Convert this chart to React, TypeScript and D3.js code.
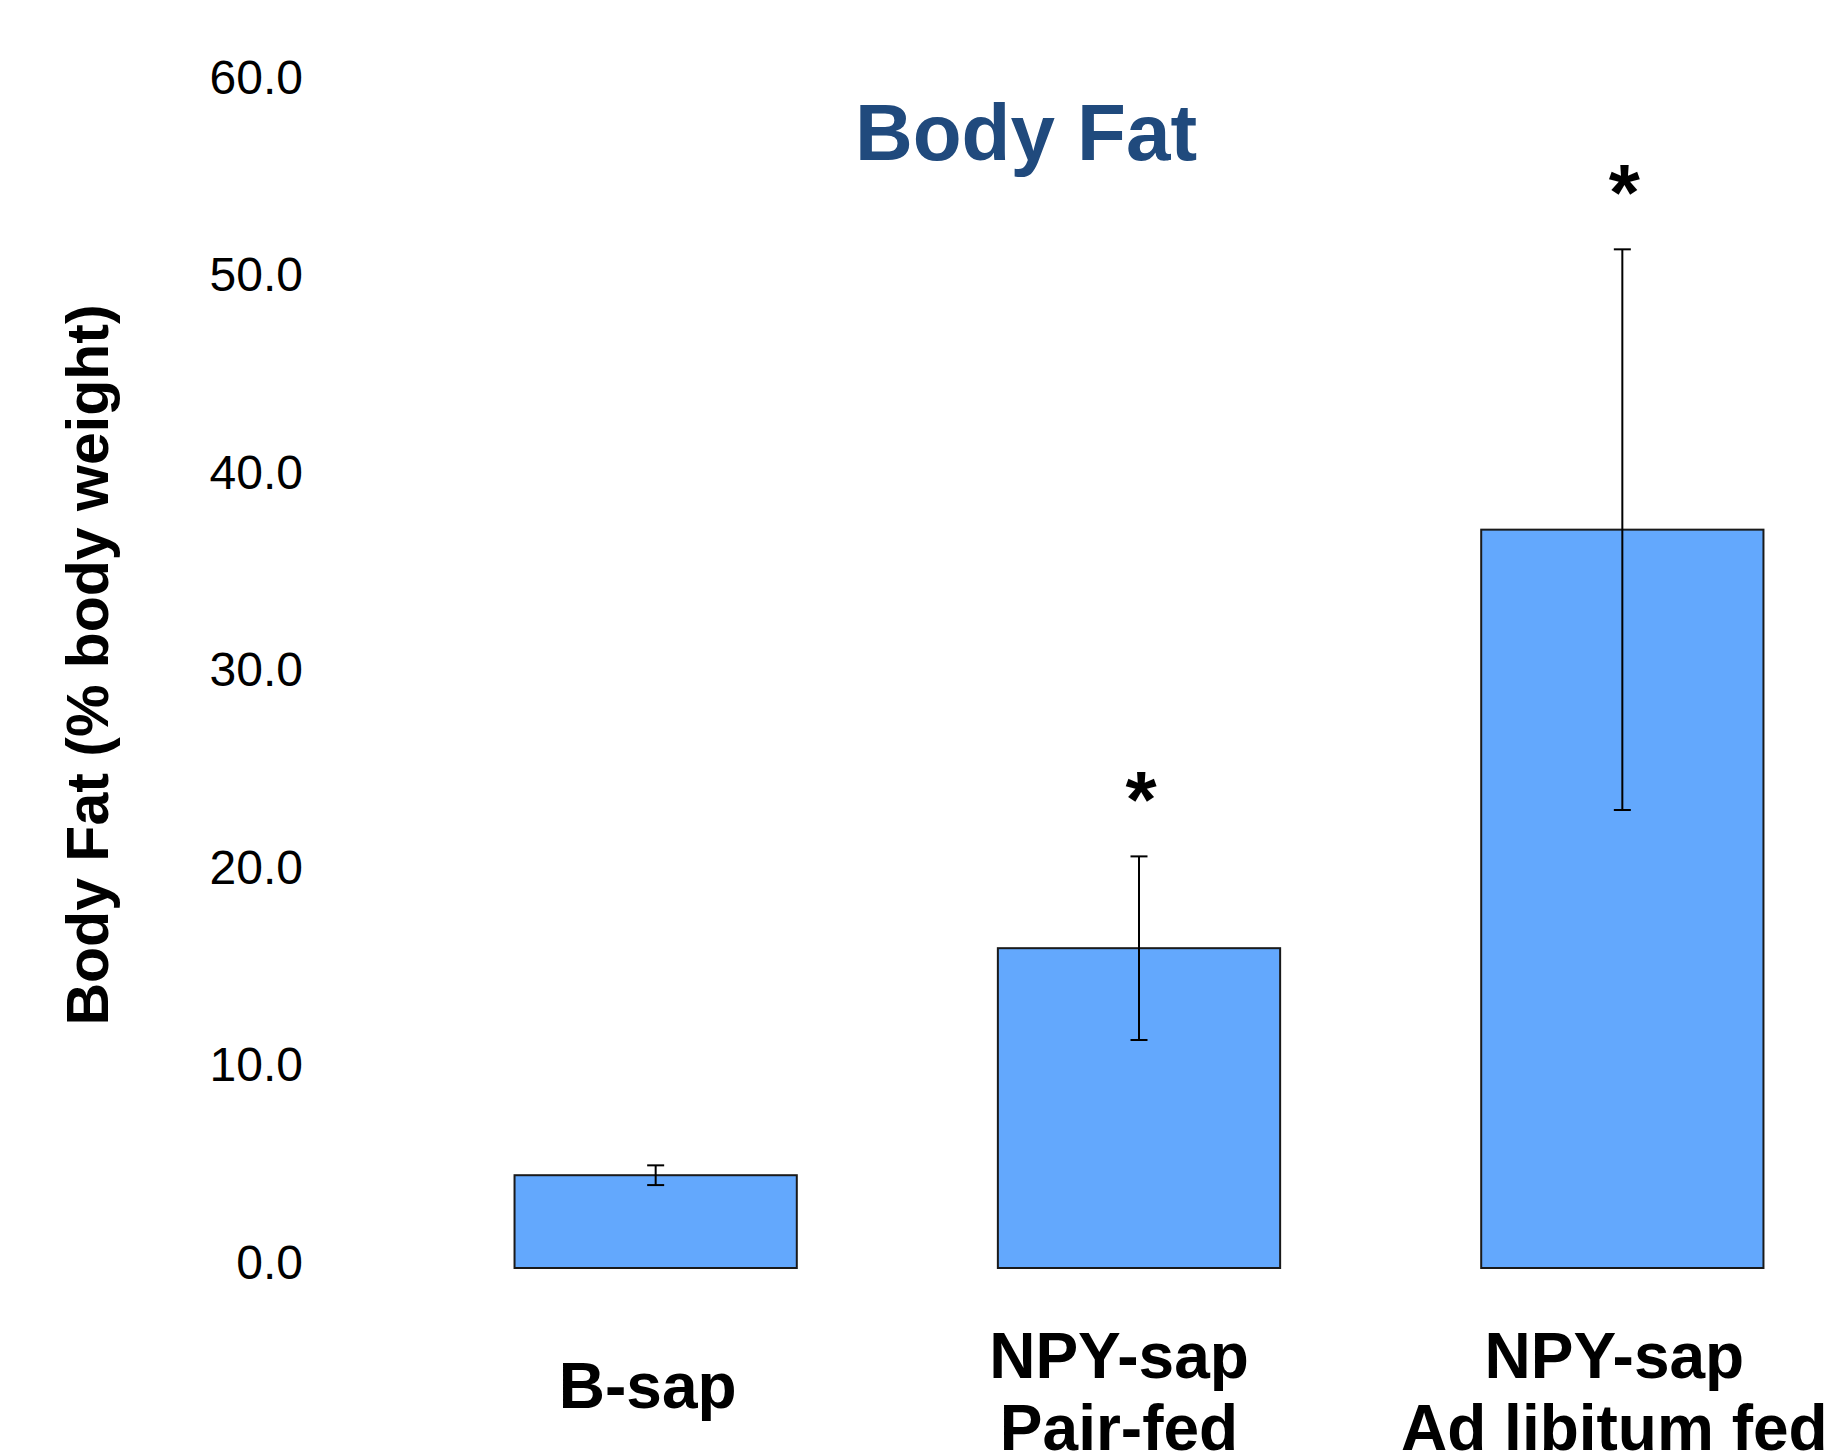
import React, { useEffect, useRef } from 'react';
import * as d3 from 'd3';

// values
const groups = ['B-sap', 'NPY-sap Pair-fed', 'NPY-sap Ad libitum fed'];
const groupLines = [['B-sap'], ['NPY-sap', 'Pair-fed'], ['NPY-sap', 'Ad libitum fed']];
const bodyFat = [4.7, 16.2, 37.4];
const bodyFatErr = [0.5, 4.65, 14.2];
const significant = [false, true, true];
const yTicks = [0, 10, 20, 30, 40, 50, 60];

const W = 1824;
const H = 1455;
const FONT = '"Liberation Sans", Arial, sans-serif';

export default function App() {
    const svgRef = useRef<SVGSVGElement | null>(null);

    useEffect(() => {
        const svg = d3.select(svgRef.current);
        svg.selectAll('*').remove();

        const x = d3.scaleBand<string>()
            .domain(groups)
            .range([414, 1864])
            .paddingInner(0.416)
            .paddingOuter(0.208);

        const y = d3.scaleLinear()
            .domain([0, 60])
            .range([1268, 83.5]);

        // tick labels (no axis line in the original)
        svg.append('g')
            .selectAll('text')
            .data(yTicks)
            .join('text')
            .attr('x', 303)
            .attr('y', d => y(d) - 6)
            .attr('text-anchor', 'end')
            .attr('dominant-baseline', 'central')
            .attr('font-family', FONT)
            .attr('font-size', 48)
            .attr('fill', '#000')
            .text(d => d3.format('.1f')(d));

        // y axis title
        svg.append('text')
            .attr('transform', 'translate(108, 665) rotate(-90)')
            .attr('text-anchor', 'middle')
            .attr('font-family', FONT)
            .attr('font-weight', 'bold')
            .attr('font-size', 59)
            .text('Body Fat (% body weight)');

        // chart title
        svg.append('text')
            .attr('x', 1026)
            .attr('y', 160)
            .attr('text-anchor', 'middle')
            .attr('font-family', FONT)
            .attr('font-weight', 'bold')
            .attr('font-size', 80)
            .attr('fill', '#204a7d')
            .text('Body Fat');

        const bars = svg.append('g');
        bars.selectAll('rect')
            .data(groups)
            .join('rect')
            .attr('x', d => x(d)!)
            .attr('y', (d, i) => y(bodyFat[i]))
            .attr('width', x.bandwidth())
            .attr('height', (d, i) => y(0) - y(bodyFat[i]))
            .attr('fill', '#63a8fd')
            .attr('stroke', '#1a1a1a')
            .attr('stroke-width', 2);

        const cx = (d: string) => x(d)! + x.bandwidth() / 2;
        const capW = 8.5;

        const err = svg.append('g').attr('stroke', '#000').attr('stroke-width', 2);
        groups.forEach((g, i) => {
            const hi = y(bodyFat[i] + bodyFatErr[i]);
            const lo = y(bodyFat[i] - bodyFatErr[i]);
            err.append('line').attr('x1', cx(g)).attr('x2', cx(g)).attr('y1', hi).attr('y2', lo);
            err.append('line').attr('x1', cx(g) - capW).attr('x2', cx(g) + capW).attr('y1', hi).attr('y2', hi);
            err.append('line').attr('x1', cx(g) - capW).attr('x2', cx(g) + capW).attr('y1', lo).attr('y2', lo);
        });

        // significance stars
        svg.append('g')
            .selectAll('text')
            .data(groups.filter((g, i) => significant[i]))
            .join('text')
            .attr('x', d => cx(d) + 2)
            .attr('y', d => {
                const i = groups.indexOf(d);
                return y(bodyFat[i] + bodyFatErr[i]) - 29;
            })
            .attr('text-anchor', 'middle')
            .attr('font-family', FONT)
            .attr('font-weight', 'bold')
            .attr('font-size', 80)
            .text('*');

        // category labels (centred a little off the bars, as in the original)
        const labelShift = [-8, -20, -8];
        const cats = svg.append('g')
            .attr('font-family', FONT)
            .attr('font-weight', 'bold')
            .attr('font-size', 64)
            .attr('text-anchor', 'middle');
        groups.forEach((g, i) => {
            const lines = groupLines[i];
            const lx = cx(g) + labelShift[i];
            const t = cats.append('text')
                .attr('x', lx)
                .attr('y', lines.length === 1 ? 1408 : 1378);
            lines.forEach((ln, j) => {
                t.append('tspan')
                    .attr('x', lx)
                    .attr('dy', j === 0 ? 0 : 72)
                    .text(ln);
            });
        });
    }, []);

    return (
        <div style={{ position: 'absolute', left: 0, top: 0 }}>
            <svg ref={svgRef} width={W} height={H} viewBox={`0 0 ${W} ${H}`} style={{ display: 'block', background: '#fff' }} />
        </div>
    );
}
